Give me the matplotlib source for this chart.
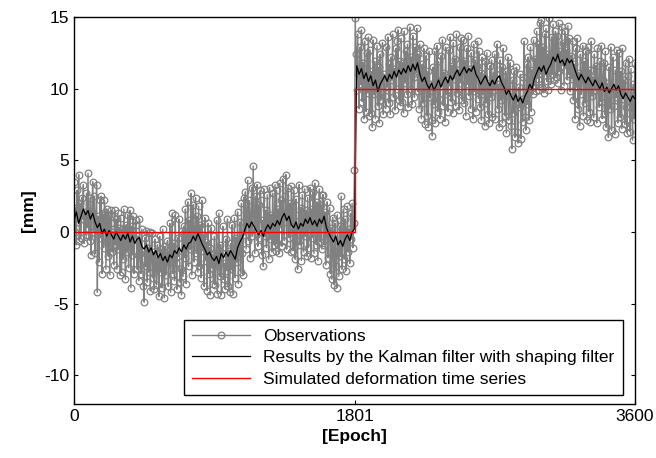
import numpy as np
import matplotlib
matplotlib.use("Agg")
import matplotlib.pyplot as plt

plt.rcParams['font.family'] = ['Liberation Sans', 'DejaVu Sans']
plt.rcParams['font.size'] = 12.5
plt.rcParams['axes.unicode_minus'] = False

# observation epochs (read every 5 epochs) and filter epochs (every 15)
obs_epochs = np.arange(0, 3601, 5)
kal_epochs = np.arange(0, 3601, 15)

# Observations [mm] (20 values = 100 epochs per line)
obs = [
    3.5, 0.0, 1.7, -0.9, 2.9, 0.7, 4.0, -0.6, 2.0, -0.4, 2.4, 0.9, 3.3, -0.8, 1.4, -0.2, 2.7, 0.3, 4.1, -0.3,
    -0.6, 2.4, -1.6, 1.4, 3.5, 0.0, 2.5, -1.5, 0.7, 3.3, -4.2, 1.1, -2.1, 2.2, -0.4, 2.5, -2.9, 1.2, -1.1, 2.2,
    1.4, -2.6, 1.6, -0.6, -1.7, 1.2, -3.0, 0.6, 1.5, -1.4, 0.0, -2.3, 1.5, -0.9, 0.9, -2.6, 1.3, -1.2, 0.3, -3.0,
    1.0, -2.8, 0.2, -1.9, 1.6, -0.9, -3.3, 0.5, -1.4, 1.2, -2.5, -0.2, 1.5, -3.9, 0.4, -1.6, 1.1, -2.9, -0.5, 0.8,
    0.5, -2.6, -0.3, -3.4, 0.9, -1.5, -2.9, 0.2, -1.9, -3.8, -4.9, -0.4, -2.4, 0.1, -3.5, -1.1, -2.8, 0.0, -4.1, -1.6,
    -0.1, -3.2, -1.4, -4.0, -0.5, -2.6, -3.7, -0.9, -2.0, -4.5, -0.3, -2.8, -1.2, -3.9, 0.2, -2.2, -4.6, -1.0, -3.0, -1.7,
    -0.6, -3.8, -2.1, 0.6, -4.2, -1.5, 1.3, -2.9, -0.8, -3.4, 1.2, -2.2, -4.0, -0.4, -1.7, 0.9, -3.5, -2.6, -4.4, 0.1,
    -3.1, 0.4, -1.8, 1.6, -3.6, -0.5, 2.1, -2.4, 0.8, -1.2, 2.7, -3.0, 0.2, 1.9, -2.1, -0.3, 2.4, -1.5, 1.1, -2.8,
    1.8, -2.4, 0.5, -3.2, 2.2, -1.3, -0.2, -3.8, 1.0, -2.0, -0.7, -4.1, 0.6, -2.9, -1.1, -4.4, 0.3, -2.5, -1.6, -3.6,
    -0.3, -3.7, -1.9, 0.8, -4.3, -2.4, 1.3, -3.1, -0.9, -4.4, -1.5, 0.4, -3.3, -2.2, -4.0, -0.5, -2.7, 0.9, -3.8, -1.3,
    -4.2, -0.8, -2.6, 0.5, -4.3, -1.7, 1.0, -3.2, -0.4, -2.1, 1.4, -3.6, -0.9, 0.7, -2.8, 2.0, -1.5, -3.0, 2.4, -0.2,
    2.8, -1.2, 1.3, 3.6, -0.6, 2.2, -1.8, 0.9, 3.1, -0.3, 4.6, 1.7, -1.5, 2.5, 0.1, 3.3, -1.0, 1.9, -0.4, 2.9,
    2.2, -1.6, 0.8, -2.4, 3.0, -0.3, 1.5, -1.1, 2.6, 0.2, -1.9, 3.1, -0.5, 1.2, -1.4, 2.7, 0.4, -0.9, 3.3, -1.3,
    2.9, -0.8, 1.6, -1.5, 3.4, 0.3, 2.2, -1.0, 3.7, 0.7, -0.6, 2.5, 4.0, -1.2, 1.4, 3.1, -0.4, 2.0, -1.4, 3.2,
    1.8, -1.3, 2.9, 0.1, -1.9, 2.3, -0.6, -2.6, 1.2, 3.3, -0.9, 1.7, -2.0, 2.6, 0.5, -1.4, 3.0, -0.3, 1.5, -1.7,
    2.4, -1.1, 0.7, 3.1, -1.8, 1.6, -0.4, 2.8, -1.5, 3.4, 0.2, -0.9, 2.1, -2.0, 1.3, 3.0, -0.7, 1.9, -1.2, 2.6,
    2.6, -0.9, 1.4, -2.3, 0.5, 2.1, -1.8, -0.2, 1.7, -2.9, 0.3, -3.3, 1.0, -1.6, -3.7, 0.6, -2.4, -3.9, 1.2, -1.0,
    -3.1, 0.4, -1.7, 2.5, -2.6, -0.3, 1.6, -1.9, 0.9, -2.7, -0.8, 1.8, -1.4, 0.2, -2.2, 1.3, -0.5, 2.0, -1.1, 0.6,
    4.3, 14.9, 12.4, 9.9, 13.8, 11.0, 8.6, 12.9, 10.3, 14.1, 9.1, 11.8, 7.9, 13.3, 10.6, 8.4, 12.5, 9.7, 13.6, 8.1,
    12.7, 8.3, 11.2, 7.3, 13.4, 9.6, 11.9, 7.9, 10.4, 13.0, 8.8, 11.5, 7.6, 12.4, 9.2, 10.8, 13.2, 8.2, 11.0, 9.5,
    8.6, 12.9, 10.1, 13.6, 9.0, 11.7, 8.2, 12.2, 10.6, 13.8, 9.4, 11.4, 8.5, 12.8, 10.0, 13.3, 14.1, 9.2, 11.9, 8.8,
    13.5, 9.1, 11.8, 8.3, 14.0, 10.4, 12.6, 9.6, 13.1, 8.7, 11.3, 14.3, 10.0, 12.2, 8.9, 13.7, 10.8, 9.4, 12.9, 11.1,
    14.2, 9.8, 12.4, 8.6, 13.1, 10.5, 7.9, 11.7, 9.0, 12.8, 7.5, 10.9, 12.3, 8.1, 11.2, 7.3, 12.6, 9.4, 10.3, 7.8,
    6.7, 11.5, 8.9, 12.6, 7.6, 10.7, 13.0, 8.4, 11.9, 9.3, 7.9, 12.3, 10.2, 13.4, 8.8, 11.1, 7.7, 12.9, 9.6, 10.6,
    8.4, 12.7, 10.2, 13.6, 9.1, 11.6, 8.3, 13.2, 10.7, 12.1, 8.8, 13.8, 9.7, 11.3, 8.5, 12.9, 10.4, 13.5, 9.2, 11.8,
    13.4, 9.0, 11.9, 8.1, 12.8, 10.3, 13.7, 9.5, 11.4, 8.6, 12.5, 10.9, 7.9, 13.1, 9.8, 12.0, 8.4, 11.6, 13.3, 9.3,
    12.6, 8.7, 11.1, 7.8, 12.2, 9.6, 10.8, 7.4, 11.9, 9.0, 12.5, 8.2, 10.4, 7.6, 11.6, 9.4, 12.0, 8.0, 10.9, 9.9,
    12.4, 7.9, 11.0, 13.1, 8.6, 10.3, 7.3, 12.0, 9.2, 11.5, 7.6, 12.8, 9.8, 8.1, 11.2, 6.9, 10.5, 12.2, 7.8, 9.5,
    11.8, 7.4, 5.8, 10.6, 8.3, 11.2, 6.6, 9.7, 11.5, 7.0, 6.2, 10.1, 8.7, 11.0, 6.5, 9.3, 7.7, 10.8, 13.3, 8.0,
    7.1, 11.7, 8.9, 12.2, 7.8, 10.6, 12.9, 8.4, 11.3, 9.6, 13.4, 10.2, 12.1, 9.8, 14.0, 10.7, 13.1, 9.9, 14.6, 11.0,
    14.8, 10.1, 12.9, 9.7, 13.8, 11.3, 14.2, 10.5, 12.4, 9.9, 14.9, 11.8, 10.3, 13.6, 11.0, 14.5, 10.6, 12.8, 14.0, 10.8,
    13.7, 10.4, 14.6, 11.2, 12.6, 9.9, 14.3, 11.6, 13.2, 10.2, 14.0, 11.9, 12.7, 10.6, 14.4, 11.0, 13.5, 9.8, 12.3, 10.7,
    13.3, 9.2, 11.7, 7.9, 12.8, 10.1, 13.5, 8.6, 11.1, 7.4, 12.4, 9.6, 10.7, 13.0, 8.1, 11.9, 9.0, 12.6, 7.8, 10.3,
    12.9, 8.4, 11.3, 7.7, 13.3, 9.5, 10.8, 8.0, 12.4, 9.9, 11.6, 7.6, 12.8, 10.2, 8.7, 11.9, 9.1, 13.0, 7.9, 10.6,
    11.8, 8.2, 12.6, 7.3, 10.4, 9.0, 6.6, 11.5, 8.6, 12.9, 7.1, 10.1, 12.2, 8.8, 6.8, 11.3, 9.4, 12.7, 7.6, 10.8,
    12.5, 8.0, 11.2, 7.2, 12.8, 9.3, 10.6, 7.5, 11.8, 8.7, 6.9, 10.9, 12.1, 8.3, 7.0, 11.4, 9.0, 6.4, 10.3, 7.9,
    11.8,
]

# Kalman filter (with shaping filter) estimates [mm], every 15 epochs
kalman = [
    0.8, 1.4, 0.6, 1.1, 1.6, 1.2, 1.5, 0.9, 1.3, 0.7,
    0.3, 0.6, -0.1, 0.2, -0.3, 0.1, -0.2, -0.5, 0.0, -0.3,
    -0.6, -0.2, -0.5, -0.1, -0.7, -0.3, -0.8, -0.5, -0.4, -1.0,
    -1.2, -0.9, -1.4, -1.1, -1.6, -1.3, -1.8, -1.5, -2.0, -1.7,
    -2.1, -1.6, -1.8, -1.3, -1.5, -1.1, -1.4, -0.9, -1.2, -0.8,
    -0.7, -0.3, -0.6, -0.1, -0.5, -0.9, -1.2, -1.6, -1.4, -1.8,
    -2.0, -1.7, -2.2, -1.5, -1.8, -1.4, -1.7, -1.3, -1.6, -1.9,
    -1.1, -0.7, -0.4, 0.1, 0.6, 0.3, 0.7, 0.4, 0.1, -0.2,
    0.1, -0.3, 0.2, 0.5, 0.2, 0.6, 0.4, 0.8, 0.5, 1.0,
    1.3, 0.8, 1.1, 0.5, 0.3, 0.7, 0.2, 0.6, 0.4, 0.9,
    0.6, 1.0, 0.5, 0.8, 0.4, 0.9, 0.6, 1.1, 0.3, -0.1,
    -0.4, -0.7, -0.3, -0.9, -0.6, -1.0, -0.5, -0.2, -0.6, 0.0,
    0.2, 11.6, 11.0, 11.4, 10.7, 11.1, 10.5, 10.9, 10.2, 10.6,
    9.8, 10.3, 10.6, 10.9, 10.5, 11.0, 10.7, 11.2, 10.8, 11.3,
    11.0, 11.4, 11.1, 11.6, 11.2, 11.7, 11.3, 11.8, 11.0, 10.5,
    10.8, 10.3, 10.0, 10.4, 9.9, 10.2, 10.6, 10.1, 10.5, 10.8,
    10.4, 10.9, 10.6, 11.0, 11.3, 10.9, 11.2, 11.5, 11.1, 11.4,
    11.2, 11.6, 11.0, 10.7, 10.3, 10.6, 10.9, 10.5, 10.2, 10.6,
    10.3, 10.7, 10.9, 10.4, 10.1, 9.6, 9.9, 9.5, 9.2, 9.6,
    9.1, 9.4, 9.0, 9.5, 9.8, 10.3, 10.0, 10.7, 11.1, 11.5,
    11.2, 11.6, 11.0, 11.4, 11.7, 12.2, 11.9, 12.4, 11.8, 12.0,
    11.6, 12.1, 11.8, 12.0, 11.5, 11.0, 10.6, 11.0, 10.7, 10.4,
    10.8, 10.5, 10.2, 10.6, 10.3, 10.0, 10.4, 9.8, 10.1, 9.7,
    10.0, 10.3, 9.9, 10.2, 9.6, 9.3, 9.7, 9.4, 9.1, 9.5,
    9.3,
]

# simulated deformation: step of 10 mm at epoch 1801
sim_epochs = [0, 1801, 3600]
sim_vals = [0, 10, 10]

xticks = [0, 1801, 3600]
yticks = [-10, -5, 0, 5, 10, 15]

fig = plt.figure(figsize=(6.56, 4.58), dpi=100)
ax = fig.add_axes([0.1128, 0.118, 0.855, 0.845])

ax.plot(obs_epochs, obs, color='#808080', lw=1.0, marker='o', ms=4.8,
        mfc='none', mec='#808080', mew=0.9, label='Observations')
ax.plot(kal_epochs, kalman, color='black', lw=0.9,
        label='Results by the Kalman filter with shaping filter')
ax.step(sim_epochs, sim_vals, where='post', color='red', lw=1.0,
        label='Simulated deformation time series')

ax.set_xlim(0, 3600)
ax.set_ylim(-12, 15)
ax.set_xticks(xticks)
ax.set_yticks(yticks)
ax.tick_params(direction='in', length=3, top=True, right=True, width=0.8)
for s in ax.spines.values():
    s.set_linewidth(1.0)

ax.set_xlabel('[Epoch]', fontweight='bold', labelpad=4)
ax.set_ylabel('[mm]', fontweight='bold', labelpad=6)

leg = ax.legend(loc='lower right', bbox_to_anchor=(0.995, 0.0), numpoints=1,
                handlelength=3.3, labelspacing=0.35, borderpad=0.5,
                fancybox=False, framealpha=1, edgecolor='black')
leg.get_frame().set_linewidth(1.0)

fig.savefig('out.png', dpi=100)
